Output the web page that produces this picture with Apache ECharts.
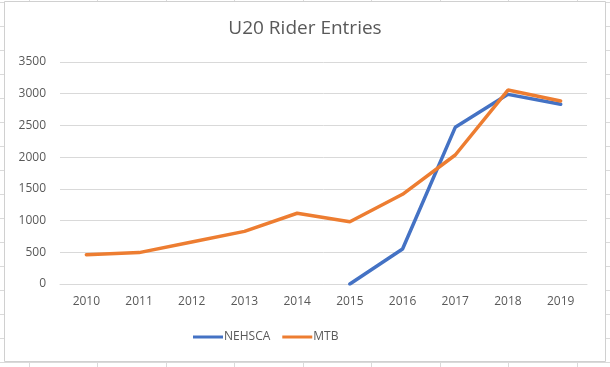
<!DOCTYPE html>
<html><head><meta charset="utf-8">
<script src="https://cdn.jsdelivr.net/npm/echarts@6/dist/echarts.min.js"></script>
<style>html,body{margin:0;padding:0;background:#fff}#c{width:610px;height:367px}</style>
</head><body><div id="c"></div>
<script>
var categories = ['2010','2011','2012','2013','2014','2015','2016','2017','2018','2019'];
var nehsca = [null,null,null,null,null,0,552,2470,2990,2833];
var mtb = [462,495,662,830,1115,982,1414,2034,3058,2885];
var yTicks = [0,500,1000,1500,2000,2500,3000,3500];

var chart = echarts.init(document.getElementById('c'), null, {renderer:'canvas'});
var deco = [];
var vx = [29,97,166,234,303,371,440,508,577];
vx.forEach(function(x){deco.push({type:'line',shape:{x1:x+0.5,y1:0,x2:x+0.5,y2:367},style:{stroke:'#dadada',lineWidth:1},z:-10});});
for (var y=2; y<367; y+=24){deco.push({type:'line',shape:{x1:0,y1:y+0.5,x2:610,y2:y+0.5},style:{stroke:'#dadada',lineWidth:1},z:-10});}
deco.push({type:'rect',shape:{x:4.5,y:1.5,width:601,height:360},style:{fill:'#fff',stroke:'#d0d0d0',lineWidth:1},z:-5});

chart.setOption({
  animation:false,
  backgroundColor:'#fff',
  graphic: deco,
  title:{text:'U20 Rider Entries',left:'center',top:14,textStyle:{fontFamily:'Open Sans',fontSize:19,fontWeight:'normal',color:'#595959'}},
  grid:{left:60,right:23,top:62,bottom:83},
  legend:{bottom:19,left:188,itemWidth:30,itemHeight:3,itemGap:12,icon:'rect',
    textStyle:{fontFamily:'Open Sans',fontSize:12,color:'#595959',padding:[0,0,0,-4]},
    data:['NEHSCA','MTB']},
  xAxis:{type:'category',data:categories,boundaryGap:true,
    axisLine:{show:true,lineStyle:{color:'#d9d9d9'}},axisTick:{show:false},
    axisLabel:{fontFamily:'Open Sans',fontSize:12,color:'#595959',margin:12}},
  yAxis:{type:'value',min:yTicks[0],max:yTicks[yTicks.length-1],interval:yTicks[1]-yTicks[0],
    axisLine:{show:false},axisTick:{show:false},
    splitLine:{lineStyle:{color:'#d9d9d9'}},
    axisLabel:{fontFamily:'Open Sans',fontSize:12,color:'#595959',margin:14,formatter:function(v){return String(v);}}},
  series:[
    {name:'NEHSCA',type:'line',data:nehsca,symbol:'none',connectNulls:false,
      lineStyle:{width:3.5,color:'#4472C4',cap:'round'},itemStyle:{color:'#4472C4'},z:2},
    {name:'MTB',type:'line',data:mtb,symbol:'none',
      lineStyle:{width:3.5,color:'#ED7D31',cap:'round'},itemStyle:{color:'#ED7D31'},z:3}
  ]
});
</script></body></html>
